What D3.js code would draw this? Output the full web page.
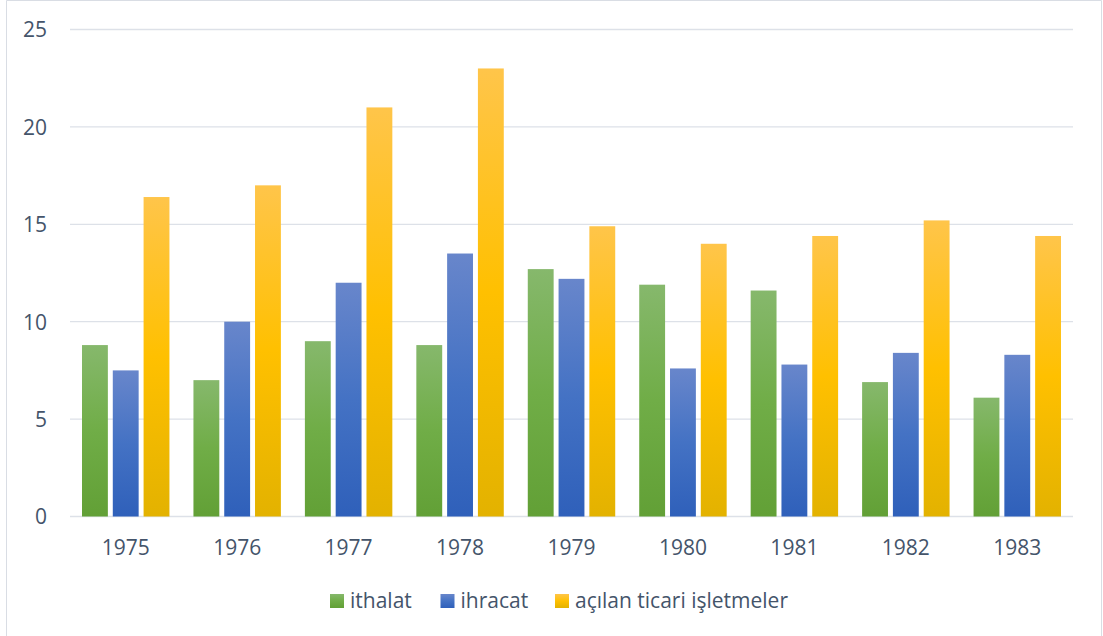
<!DOCTYPE html>
<html>
<head>
<meta charset="utf-8">
<script src="https://cdn.jsdelivr.net/npm/d3@7/dist/d3.min.js"></script>
<style>
  html, body { margin: 0; padding: 0; background: #ffffff; }
  svg { display: block; }
  text { font-family: "Open Sans", "Noto Sans", sans-serif; fill: #44546A; }
</style>
</head>
<body>
<svg id="chart" width="1103" height="636"></svg>
<script>
const years = ["1975", "1976", "1977", "1978", "1979", "1980", "1981", "1982", "1983"];
const seriesNames = ["ithalat", "ihracat", "açılan ticari işletmeler"];
const ithalat = [8.8, 7.0, 9.0, 8.8, 12.7, 11.9, 11.6, 6.9, 6.1];
const ihracat = [7.5, 10.0, 12.0, 13.5, 12.2, 7.6, 7.8, 8.4, 8.3];
const acilan = [16.4, 17.0, 21.0, 23.0, 14.9, 14.0, 14.4, 15.2, 14.4];
const yTicks = [0, 5, 10, 15, 20, 25];

const seriesValues = [ithalat, ihracat, acilan];
const colors = [
  { top: "#86b86c", mid: "#70ad47", bot: "#62a036" },
  { top: "#6886cb", mid: "#4472c4", bot: "#2f60ba" },
  { top: "#ffc54a", mid: "#ffc000", bot: "#e3b200" }
];
const fontSize = 21;

const svg = d3.select("#chart");
const defs = svg.append("defs");
colors.forEach((c, i) => {
  const g = defs.append("linearGradient")
    .attr("id", "grad" + i)
    .attr("x1", 0).attr("y1", 0).attr("x2", 0).attr("y2", 1);
  g.append("stop").attr("offset", "0%").attr("stop-color", c.top);
  g.append("stop").attr("offset", "50%").attr("stop-color", c.mid);
  g.append("stop").attr("offset", "100%").attr("stop-color", c.bot);
});

// chart frame (left, top, right)
svg.append("path")
  .attr("d", "M6.5,636 L6.5,0.5 L1101.5,0.5 L1101.5,636")
  .attr("fill", "none")
  .attr("stroke", "#d9dde4")
  .attr("stroke-width", 1);

const left = 70, right = 1073;
const x0 = d3.scaleBand().domain(years).range([left, right]).padding(0);
const groupPad = 12;
const x1 = d3.scaleBand().domain(seriesNames)
  .range([groupPad, x0.bandwidth() - groupPad])
  .paddingInner(0.16).paddingOuter(0);
const y = d3.scaleLinear().domain([0, 25]).range([516.5, 29.5]);

// gridlines
svg.append("g").selectAll("line")
  .data(yTicks)
  .join("line")
  .attr("x1", left).attr("x2", right)
  .attr("y1", d => y(d)).attr("y2", d => y(d))
  .attr("stroke", "#dde1e8")
  .attr("stroke-width", 1.3);

// y labels
const yAxis = d3.axisLeft(y).tickValues(yTicks).tickSize(0).tickPadding(0);
const gy = svg.append("g").attr("transform", "translate(47,0)").call(yAxis);
gy.select(".domain").remove();
gy.selectAll("text")
  .attr("font-size", fontSize)
  .attr("font-family", "'Open Sans', sans-serif")
  .attr("fill", "#44546A")
  .attr("dy", "0.35em");

// bars
const groups = svg.append("g").selectAll("g")
  .data(years)
  .join("g")
  .attr("transform", d => `translate(${x0(d)},0)`);

groups.selectAll("rect")
  .data((d, i) => seriesNames.map((s, j) => ({ s, j, v: seriesValues[j][i] })))
  .join("rect")
  .attr("x", d => x1(d.s))
  .attr("width", x1.bandwidth())
  .attr("y", d => y(d.v))
  .attr("height", d => y(0) - y(d.v))
  .attr("fill", d => `url(#grad${d.j})`);

// x labels
const xAxis = d3.axisBottom(x0).tickSize(0).tickPadding(0);
const gx = svg.append("g").attr("transform", "translate(0,548)").call(xAxis);
gx.select(".domain").remove();
gx.selectAll("text")
  .attr("font-size", fontSize)
  .attr("font-family", "'Open Sans', sans-serif")
  .attr("fill", "#44546A")
  .attr("dy", "0.35em");

// legend
const legendX = [330, 440.5, 555];
const legend = svg.append("g").selectAll("g")
  .data(seriesNames)
  .join("g")
  .attr("transform", (d, i) => `translate(${legendX[i]},594)`);
legend.append("rect")
  .attr("width", 14).attr("height", 14)
  .attr("fill", (d, i) => `url(#grad${i})`);
legend.append("text")
  .attr("x", 20).attr("y", 7)
  .attr("dy", "0.35em")
  .attr("font-size", fontSize)
  .text(d => d);
</script>
</body>
</html>
